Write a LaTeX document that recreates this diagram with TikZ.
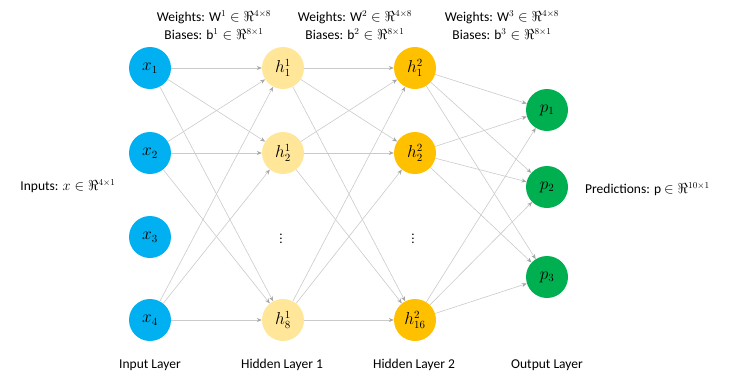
\documentclass[tikz,border=0pt]{standalone}
\usepackage{fontspec}
\setmainfont{Carlito}
\usetikzlibrary{arrows.meta}
\definecolor{inblue}{HTML}{00B0F0}
\definecolor{hlight}{HTML}{FFE699}
\definecolor{hdark}{HTML}{FFC000}
\definecolor{outgreen}{HTML}{00B050}
\definecolor{edgegray}{HTML}{CACACA}
\definecolor{tipgray}{HTML}{A6A6A6}
\begin{document}
\begin{tikzpicture}[x=1pt,y=-1pt,
  neuron/.style={circle, minimum size=42pt, inner sep=0pt, font=\fontsize{16}{18}\selectfont},
  inn/.style={neuron, fill=inblue},
  hone/.style={neuron, fill=hlight},
  htwo/.style={neuron, fill=hdark},
  outn/.style={neuron, fill=outgreen},
  conn/.style={draw=edgegray, line width=0.6pt, -{Stealth[length=5pt,width=4pt,color=tipgray]}},
  lbl/.style={font=\fontsize{13.5}{16}\selectfont, inner sep=0pt},
  vdots/.style={font=\fontsize{13}{15}\selectfont, inner sep=0pt}
]
\useasboundingbox (0,0) rectangle (732,373);

% input layer
\node[inn] (x1) at (150,68) {$x_1$};
\node[inn] (x2) at (150,153) {$x_2$};
\node[inn] (x3) at (150,237) {$x_3$};
\node[inn] (x4) at (150,320) {$x_4$};

% hidden 1
\node[hone] (a1) at (283,68) {$h^1_1$};
\node[hone] (a2) at (283,153) {$h^1_2$};
\node[vdots] (ad) at (281,236) {$\vdots$};
\node[hone] (a8) at (283,320) {$h^1_8$};

% hidden 2
\node[htwo] (b1) at (415,68) {$h^2_1$};
\node[htwo] (b2) at (415,153) {$h^2_2$};
\node[vdots] (bd) at (413,236) {$\vdots$};
\node[htwo] (b16) at (415,320) {$h^2_{16}$};

% output
\node[outn] (p1) at (547,110) {$p_1$};
\node[outn] (p2) at (547,187) {$p_2$};
\node[outn] (p3) at (547,277) {$p_3$};

% connections
\foreach \s in {x1,x2,x4}{
  \foreach \t in {a1,a2,a8}{
    \draw[conn] (\s) -- (\t);
  }
}
\foreach \s in {a1,a2,a8}{
  \foreach \t in {b1,b2,b16}{
    \draw[conn] (\s) -- (\t);
  }
}
\foreach \s in {b1,b2,b16}{
  \foreach \t in {p1,p2,p3}{
    \draw[conn] (\s) -- (\t);
  }
}

% layer labels
\node[lbl] (l1) at (150,365) {Input Layer};
\node[lbl] (l2) at (282,365) {Hidden Layer 1};
\node[lbl] (l3) at (414,365) {Hidden Layer 2};
\node[lbl] (l4) at (547,365) {Output Layer};

% weights
\node[lbl] (w1) at (214,17) {Weights: W$^1\in\Re^{4\times 8}$};
\node[lbl] (c1) at (214,34) {Biases: b$^1\in\Re^{8\times 1}$};
\node[lbl] (w2) at (355,17) {Weights: W$^2\in\Re^{4\times 8}$};
\node[lbl] (c2) at (355,34) {Biases: b$^2\in\Re^{8\times 1}$};
\node[lbl] (w3) at (502,17) {Weights: W$^3\in\Re^{4\times 8}$};
\node[lbl] (c3) at (502,34) {Biases: b$^3\in\Re^{8\times 1}$};

% side labels
\node[lbl] (inp) at (68,186) {Inputs: $x\in\Re^{4\times 1}$};
\node[lbl, anchor=west] (pred) at (585,189) {Predictions: p $\in\Re^{10\times 1}$};
\end{tikzpicture}
\end{document}
